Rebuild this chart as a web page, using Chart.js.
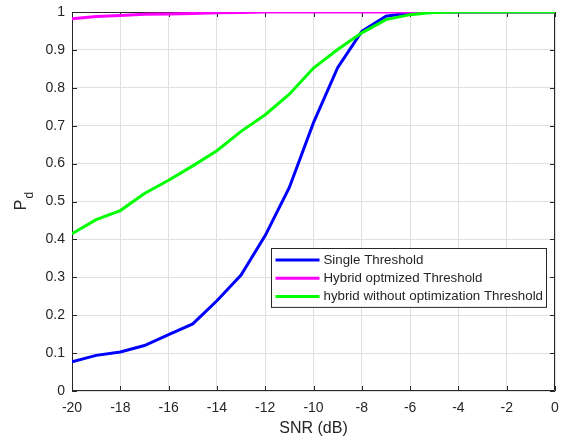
<!DOCTYPE html>
<html>
<head>
<meta charset="utf-8">
<script src="https://cdn.jsdelivr.net/npm/chart.js@4"></script>
<style>
  html, body { margin: 0; padding: 0; background: #fff; }
  canvas { display: block; }
</style>
</head>
<body>
<canvas id="c" width="563" height="441"></canvas>
<script>
// SNR sweep (dB)
const snrDb = [-20, -19, -18, -17, -16, -15, -14, -13, -12, -11, -10, -9, -8, -7, -6, -5, -4, -3, -2, -1, 0];

// Probability of detection for each detector
const singleThreshold = [0.077, 0.094, 0.103, 0.120, 0.149, 0.177, 0.238, 0.306, 0.410, 0.537, 0.708, 0.853, 0.949, 0.989, 0.998, 1, 1, 1, 1, 1, 1];
const hybridOptimized = [0.982, 0.988, 0.991, 0.994, 0.995, 0.996, 0.998, 0.999, 1, 1, 1, 1, 1, 1, 1, 1, 1, 1, 1, 1, 1];
const hybridNoOptimization = [0.415, 0.452, 0.476, 0.521, 0.556, 0.594, 0.634, 0.685, 0.729, 0.783, 0.852, 0.901, 0.945, 0.980, 0.993, 0.999, 1, 1, 1, 1, 1];

const seriesNames = ['Single Threshold', 'Hybrid optmized Threshold', 'hybrid without optimization Threshold'];

// Axis ticks
const xTickValues = [-20, -18, -16, -14, -12, -10, -8, -6, -4, -2, 0];
const yTickValues = [0, 0.1, 0.2, 0.3, 0.4, 0.5, 0.6, 0.7, 0.8, 0.9, 1];
const yTickLabels = ['0', '0.1', '0.2', '0.3', '0.4', '0.5', '0.6', '0.7', '0.8', '0.9', '1'];

const FONT = "'Liberation Sans', Arial, Helvetica, sans-serif";
const AXIS_COLOR = '#262626';

const toPoints = ys => snrDb.map((x, i) => ({ x, y: ys[i] }));

// Axes box with inward tick marks on all four sides
const framePlugin = {
  id: 'frame',
  beforeDatasetsDraw(chart) {
    const { ctx, chartArea: a, scales } = chart;
    const L = 5;
    ctx.save();
    ctx.strokeStyle = AXIS_COLOR;
    ctx.lineWidth = 1;
    ctx.beginPath();
    ctx.rect(Math.round(a.left) + 0.5, Math.round(a.top) + 0.5,
             Math.round(a.right) - Math.round(a.left) - 1, Math.round(a.bottom) - Math.round(a.top) - 1);
    scales.x.ticks.forEach(t => {
      const px = Math.round(scales.x.getPixelForValue(t.value)) + 0.5;
      ctx.moveTo(px, a.bottom); ctx.lineTo(px, a.bottom - L);
      ctx.moveTo(px, a.top); ctx.lineTo(px, a.top + L);
    });
    scales.y.ticks.forEach(t => {
      const py = Math.round(scales.y.getPixelForValue(t.value)) + 0.5;
      ctx.moveTo(a.left, py); ctx.lineTo(a.left + L, py);
      ctx.moveTo(a.right, py); ctx.lineTo(a.right - L, py);
    });
    ctx.stroke();
    ctx.restore();
  },
  afterDraw(chart) {
    const { ctx, chartArea: a } = chart;
    ctx.save();
    ctx.fillStyle = AXIS_COLOR;
    // x-axis title
    ctx.font = '16px ' + FONT;
    ctx.textAlign = 'center';
    ctx.textBaseline = 'middle';
    ctx.fillText('SNR (dB)', (a.left + a.right) / 2, 429);
    // y-axis title: P with subscript d
    ctx.translate(22, (a.top + a.bottom) / 2);
    ctx.rotate(-Math.PI / 2);
    ctx.textAlign = 'left';
    ctx.textBaseline = 'middle';
    ctx.font = '16px ' + FONT;
    const pw = ctx.measureText('P').width;
    ctx.font = '12px ' + FONT;
    const dw = ctx.measureText('d').width;
    const x0 = -(pw + dw) / 2;
    ctx.font = '16px ' + FONT;
    ctx.fillText('P', x0, 0);
    ctx.font = '12px ' + FONT;
    ctx.fillText('d', x0 + pw + 1, 8);
    ctx.restore();
  }
};

// Boxed legend inside the plot area
const legendBoxPlugin = {
  id: 'legendBox',
  afterDatasetsDraw(chart) {
    const { ctx, chartArea: a } = chart;
    const ds = chart.data.datasets;
    ctx.save();
    ctx.font = '13.3px ' + FONT;
    const textW = Math.max(...ds.map(d => ctx.measureText(d.label).width));
    const lineLen = 44, padL = 4, gap = 4, padR = 4, rowH = 18.3;
    const w = padL + lineLen + gap + textW + padR;
    const h = rowH * ds.length + 4;
    const right = Math.round(a.right) - 9 + 0.5, top = 248.5;
    const left = Math.round(right - w) + 0.5;
    ctx.fillStyle = '#ffffff';
    ctx.fillRect(left, top, right - left, h);
    ctx.strokeStyle = AXIS_COLOR;
    ctx.lineWidth = 1;
    ctx.strokeRect(left, top, right - left, h);
    ds.forEach((d, i) => {
      const cy = top + 11.5 + i * rowH;
      ctx.strokeStyle = d.borderColor;
      ctx.lineWidth = 3;
      ctx.beginPath();
      ctx.moveTo(left + padL, cy);
      ctx.lineTo(left + padL + lineLen, cy);
      ctx.stroke();
      ctx.fillStyle = AXIS_COLOR;
      ctx.textAlign = 'left';
      ctx.textBaseline = 'middle';
      ctx.fillText(d.label, left + padL + lineLen + gap, cy);
    });
    ctx.restore();
  }
};

new Chart(document.getElementById('c'), {
  type: 'line',
  data: {
    datasets: [
      { label: seriesNames[0], data: toPoints(singleThreshold), borderColor: '#0000ff', order: 3 },
      { label: seriesNames[1], data: toPoints(hybridOptimized), borderColor: '#ff00ff', order: 2 },
      { label: seriesNames[2], data: toPoints(hybridNoOptimization), borderColor: '#00ff00', order: 1 }
    ]
  },
  options: {
    responsive: false,
    animation: false,
    devicePixelRatio: 1,
    layout: { padding: { left: 0, top: 12, right: 8, bottom: 0 } },
    elements: {
      line: { borderWidth: 3, tension: 0, fill: false },
      point: { radius: 0, hoverRadius: 0 }
    },
    plugins: {
      legend: { display: false },
      tooltip: { enabled: false }
    },
    scales: {
      x: {
        type: 'linear',
        min: -20, max: 0,
        afterBuildTicks: s => { s.ticks = xTickValues.map(v => ({ value: v })); },
        afterFit: s => { s.height = 50; s.paddingLeft = 0; s.paddingRight = 0; },
        grid: { color: '#e0e0e0', lineWidth: 1, drawTicks: false },
        border: { display: false },
        ticks: {
          autoSkip: false, maxRotation: 0, padding: 9,
          color: AXIS_COLOR, font: { family: FONT, size: 14 },
          callback: v => String(v)
        }
      },
      y: {
        type: 'linear',
        min: 0, max: 1,
        afterBuildTicks: s => { s.ticks = yTickValues.map(v => ({ value: v })); },
        afterFit: s => { s.width = 72; s.paddingTop = 0; s.paddingBottom = 0; },
        grid: { color: '#e0e0e0', lineWidth: 1, drawTicks: false },
        border: { display: false },
        ticks: {
          autoSkip: false, padding: 7,
          color: AXIS_COLOR, font: { family: FONT, size: 14 },
          callback: (v, i) => yTickLabels[i]
        }
      }
    }
  },
  plugins: [framePlugin, legendBoxPlugin]
});
</script>
</body>
</html>
